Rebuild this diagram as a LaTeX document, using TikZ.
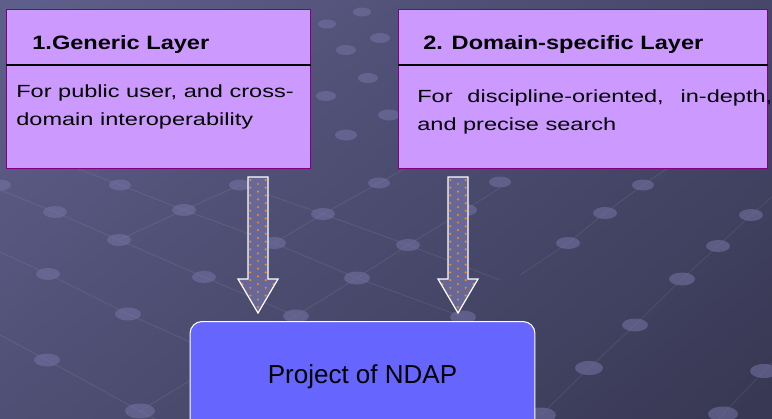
\documentclass[tikz,border=0pt]{standalone}
\usepackage{fontspec}
\setmainfont{Liberation Sans}
\newfontfamily\headfont[FakeStretch=1.22]{Liberation Sans}
\newfontfamily\bodyfont[FakeStretch=1.34]{Liberation Sans}
\usepackage{tikz}
\usetikzlibrary{positioning}

\definecolor{fondoA}{RGB}{94,94,138}
\definecolor{fondoB}{RGB}{56,56,84}
\definecolor{mancha}{RGB}{116,116,166}
\definecolor{lila}{RGB}{204,153,255}
\definecolor{morado}{RGB}{128,0,128}
\definecolor{azulp}{RGB}{102,102,255}
\definecolor{flecha}{RGB}{104,104,152}
\definecolor{naranja}{RGB}{232,136,40}

\begin{document}
\begin{tikzpicture}[x=0.02cm,y=-0.02cm,
    capa/.style={draw=morado, fill=lila, line width=0.8pt, minimum height=3.18cm, inner sep=0pt, anchor=north west},
    titulo/.style={anchor=base west, inner sep=0pt, font=\headfont\bfseries\fontsize{11}{13}\selectfont},
    texto/.style={anchor=north west, inner sep=0pt, font=\bodyfont\fontsize{10}{16}\selectfont},
    proyecto/.style={draw=white, fill=azulp, line width=0.6pt, rounded corners=0.24cm, minimum width=6.9cm, minimum height=2.2cm, anchor=north, font=\fontsize{14.8}{18}\selectfont}]

    % Fondo
    \useasboundingbox (0,0) rectangle (772,419);
    \clip (0,0) rectangle (772,419);
    \shade[top color=fondoA, bottom color=fondoB, shading angle=40] (-100,-100) rectangle (872,519);
    \foreach \p in {{(0,190)--(55,212)--(119,240)--(204,277)--(296,316)},
                    {(60,162)--(120,185)--(184,210)--(274,243)--(357,278)--(463,317)},
                    {(0,252)--(48,274)--(128,314)--(230,360)},
                    {(0,335)--(47,360)--(140,411)--(160,422)},
                    {(240,185)--(323,214)--(408,245)--(500,280)},
                    {(140,411)--(296,316)--(357,278)--(408,245)--(465,210)--(500,188)},
                    {(119,240)--(184,210)--(240,185)},
                    {(274,243)--(323,214)--(379,183)--(420,160)},
                    {(541,415)--(589,368)--(635,325)--(682,279)--(718,246)--(751,215)--(780,190)},
                    {(520,275)--(568,243)--(605,213)--(643,185)--(668,168)},
                    {(700,440)--(723,414)--(764,371)--(780,355)}}
        \draw[white, opacity=0.08, line width=0.5pt] \p;
    \foreach \ex/\ey/\er in {327/24/9, 362/12/9, 380/38/10, 346/50/10, 368/78/10, 326/96/10, 389/115/11, 346/135/11,
                             0/185/11, 120/185/11, 240/185/11, 55/212/12, 184/210/12, 119/240/12, 48/274/12, 204/277/12,
                             128/314/13, 47/360/13, 140/411/15, 274/243/12, 323/214/12, 379/183/11, 408/245/12,
                             357/278/13, 296/316/13, 465/210/12, 500/182/11, 463/317/13,
                             643/185/11, 605/213/12, 568/243/12, 751/215/12, 718/246/12, 682/279/13, 635/325/13,
                             589/368/14, 764/371/14, 723/414/15, 541/415/15}
        \fill[mancha, opacity=0.55] (\ex,\ey) ellipse ({\er} and {\er/2});

    % Capas
    \node[capa, minimum width=6.08cm] (gen) at (6,9) {};
    \node[capa, minimum width=7.38cm] (dom) at (398,9) {};
    \draw[line width=0.6pt] (gen.west |- 0,65) -- (gen.east |- 0,65);
    \draw[line width=0.6pt] (dom.west |- 0,65) -- (dom.east |- 0,65);
    \node[titulo] (genTitle) at (32,50) {1.Generic Layer};
    \node[titulo] (domTitle) at (423,50) {2. Domain-specific Layer};
    \node[texto, align=left] (genText) at (16,84) {For public user, and cross-\\domain interoperability};
    \node[texto, text width=7.1cm, align=justify] (domText) at (417,89)
        {For discipline-oriented, in-depth,\linebreak and precise search};

    % Flechas
    \foreach \ax in {258,458}{
        \begin{scope}
            \clip (\ax-10,177) -- (\ax+10,177) -- (\ax+10,279) -- (\ax+20,279) -- (\ax,313) -- (\ax-20,279) -- (\ax-10,279) -- cycle;
            \fill[flecha] (\ax-20,177) rectangle (\ax+20,313);
            \foreach \r in {0,...,17}{
                \fill[naranja] (\ax-7.7,180+7.7*\r) circle (0.7pt) (\ax+7.7,180+7.7*\r) circle (0.7pt);
                \fill[naranja] (\ax,184+7.7*\r) circle (0.7pt) (\ax-15.4,184+7.7*\r) circle (0.7pt) (\ax+15.4,184+7.7*\r) circle (0.7pt);
            }
        \end{scope}
        \draw[white, line width=0.7pt] (\ax-10,177) -- (\ax+10,177) -- (\ax+10,279) -- (\ax+20,279) -- (\ax,313) -- (\ax-20,279) -- (\ax-10,279) -- cycle;
    }

    % Proyecto
    \node[proyecto] (ndap) at (362.5,321) {Project of NDAP};
\end{tikzpicture}
\end{document}
